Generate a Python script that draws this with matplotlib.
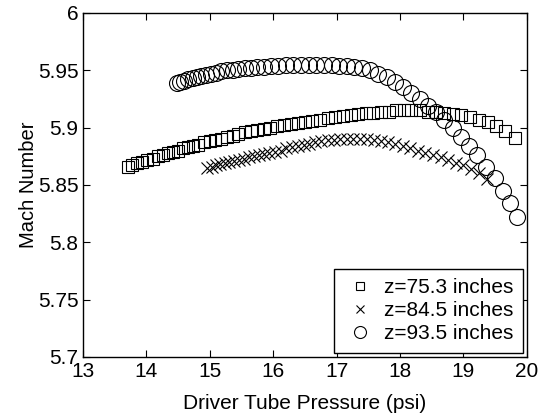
import matplotlib
matplotlib.use('Agg')
import matplotlib.pyplot as plt

# z = 75.3 inches
p_753 = [13.71, 13.78, 13.86, 13.94, 14.02, 14.10, 14.18, 14.26, 14.34, 14.42,
         14.50, 14.58, 14.66, 14.74, 14.82, 14.91, 15.00, 15.09, 15.18, 15.27,
         15.36, 15.45, 15.55, 15.65, 15.75, 15.85, 15.95, 16.06, 16.17, 16.28,
         16.39, 16.50, 16.62, 16.74, 16.86, 16.98, 17.10, 17.22, 17.34, 17.46,
         17.58, 17.70, 17.82, 17.94, 18.06, 18.18, 18.31, 18.44, 18.57, 18.70,
         18.83, 18.96, 19.10, 19.24, 19.38, 19.52, 19.66, 19.81]
m_753 = [5.866, 5.867, 5.869, 5.870, 5.872, 5.873, 5.875, 5.876, 5.878, 5.879,
         5.880, 5.882, 5.883, 5.884, 5.885, 5.887, 5.888, 5.889, 5.890, 5.892,
         5.893, 5.894, 5.896, 5.897, 5.898, 5.899, 5.900, 5.901, 5.902, 5.903,
         5.904, 5.905, 5.906, 5.907, 5.908, 5.909, 5.910, 5.911, 5.912, 5.913,
         5.913, 5.914, 5.914, 5.915, 5.915, 5.915, 5.915, 5.914, 5.914, 5.913,
         5.912, 5.911, 5.909, 5.907, 5.905, 5.901, 5.897, 5.891]

# z = 84.5 inches
p_845 = [14.96, 15.03, 15.10, 15.17, 15.24, 15.31, 15.38, 15.46, 15.54, 15.62,
         15.70, 15.78, 15.86, 15.94, 16.03, 16.12, 16.21, 16.30, 16.39, 16.48,
         16.57, 16.66, 16.76, 16.86, 16.96, 17.06, 17.16, 17.26, 17.37, 17.48,
         17.59, 17.70, 17.81, 17.92, 18.04, 18.16, 18.28, 18.40, 18.52, 18.64,
         18.76, 18.88, 19.00, 19.12, 19.24, 19.37]
m_845 = [5.865, 5.866, 5.867, 5.868, 5.869, 5.870, 5.871, 5.872, 5.873, 5.874,
         5.875, 5.876, 5.877, 5.878, 5.879, 5.880, 5.882, 5.883, 5.884, 5.885,
         5.886, 5.887, 5.888, 5.889, 5.889, 5.890, 5.890, 5.890, 5.890, 5.890,
         5.889, 5.888, 5.887, 5.886, 5.884, 5.882, 5.880, 5.878, 5.876, 5.874,
         5.872, 5.869, 5.867, 5.864, 5.860, 5.855]

# z = 93.5 inches
p_935 = [14.48, 14.54, 14.60, 14.66, 14.73, 14.80, 14.87, 14.94, 15.02, 15.10,
         15.18, 15.27, 15.36, 15.45, 15.55, 15.65, 15.75, 15.86, 15.97, 16.08,
         16.20, 16.32, 16.44, 16.56, 16.68, 16.80, 16.92, 17.04, 17.16, 17.28,
         17.40, 17.53, 17.66, 17.79, 17.92, 18.05, 18.18, 18.31, 18.44, 18.57,
         18.70, 18.83, 18.96, 19.09, 19.22, 19.36, 19.50, 19.62, 19.73, 19.85]
m_935 = [5.939, 5.940, 5.941, 5.942, 5.943, 5.944, 5.945, 5.946, 5.947, 5.948,
         5.949, 5.950, 5.950, 5.951, 5.952, 5.952, 5.953, 5.953, 5.954, 5.954,
         5.955, 5.955, 5.955, 5.955, 5.955, 5.955, 5.955, 5.954, 5.954, 5.953,
         5.952, 5.950, 5.947, 5.944, 5.940, 5.935, 5.930, 5.925, 5.919, 5.914,
         5.907, 5.900, 5.892, 5.884, 5.876, 5.866, 5.856, 5.845, 5.834, 5.822]

x_ticks = [13, 14, 15, 16, 17, 18, 19, 20]
y_ticks = [5.7, 5.75, 5.8, 5.85, 5.9, 5.95, 6]
y_labels = ['5.7', '5.75', '5.8', '5.85', '5.9', '5.95', '6']

plt.rcParams['font.family'] = ['Liberation Sans', 'DejaVu Sans']
fs = 15

fig = plt.figure(figsize=(5.41, 4.16), dpi=100)
ax = fig.add_axes([0.153, 0.142, 0.821, 0.827])

ax.plot(p_753, m_753, 's', ms=8, mfc='none', mec='k', mew=0.8, label='z=75.3 inches')
ax.plot(p_845, m_845, 'x', ms=8.5, mec='k', mew=0.8, label='z=84.5 inches')
ax.plot(p_935, m_935, 'o', ms=11.5, mfc='none', mec='k', mew=0.8, label='z=93.5 inches')

ax.set_xlim(13, 20)
ax.set_ylim(5.7, 6)
ax.set_xticks(x_ticks)
ax.set_yticks(y_ticks)
ax.set_yticklabels(y_labels)
ax.tick_params(direction='in', top=True, right=True, length=5, width=0.8,
               labelsize=fs)
ax.tick_params(axis='x', pad=4)
ax.tick_params(axis='y', pad=3)
for s in ax.spines.values():
    s.set_linewidth(1.0)

ax.set_xlabel('Driver Tube Pressure (psi)', fontsize=fs, labelpad=9)
ax.set_ylabel('Mach Number', fontsize=14.5, labelpad=0)

leg = ax.legend(loc='lower right', fancybox=False, edgecolor='k', framealpha=1,
                fontsize=fs, borderaxespad=0.2, handletextpad=0.35, labelspacing=0.2,
                borderpad=0.45, handlelength=1.6, markerscale=0.75)
leg.get_frame().set_linewidth(1.0)

fig.savefig('out.png', dpi=100)
